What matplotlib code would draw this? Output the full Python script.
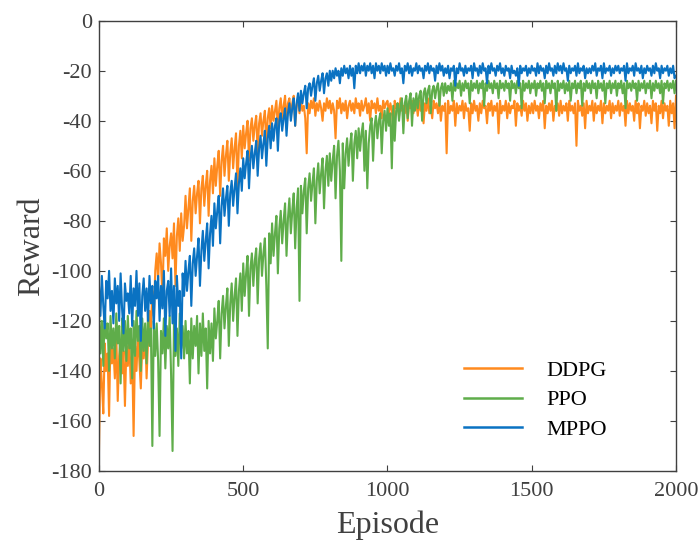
import numpy as np
import matplotlib
matplotlib.use("Agg")
import matplotlib.pyplot as plt

plt.rcParams['font.family'] = ['Liberation Serif', 'DejaVu Serif']
plt.rcParams['axes.unicode_minus'] = False

episodes = np.arange(0, 2001, 5)

ddpg = [
    -172, -135, -145, -157, -129, -140, -133, -158, -126, -137, -131, -143, -125, -152, -134, -128, -141, -132, -154, -130,
    -138, -127, -145, -133, -166, -130, -140, -125, -136, -147, -129, -135, -123, -143, -128, -116, -123, -108, -118, -100,
    -93, -104, -89, -97, -111, -87, -94, -83, -100, -90, -85, -95, -81, -106, -86, -79, -92, -77, -88, -82,
    -70, -83, -75, -67, -88, -72, -66, -77, -69, -64, -81, -67, -62, -74, -66, -60, -78, -64, -58, -69,
    -55, -66, -58, -52, -70, -56, -50, -62, -54, -48, -64, -53, -47, -59, -51, -45, -67, -50, -44, -55,
    -42, -51, -45, -40, -56, -43, -39, -48, -42, -38, -53, -41, -37, -46, -40, -36, -50, -39, -35, -43,
    -34, -40, -36, -32, -44, -35, -31, -39, -34, -30, -41, -33, -31, -38, -33, -30, -42, -34, -31, -37,
    -32, -36, -34, -39, -53, -33, -37, -32, -35, -31, -38, -33, -36, -32, -35, -40, -33, -36, -31, -35,
    -32, -37, -33, -36, -47, -32, -35, -31, -37, -33, -36, -32, -39, -34, -32, -36, -33, -37, -31, -35,
    -33, -38, -32, -36, -34, -31, -37, -33, -40, -32, -35, -33, -37, -31, -36, -34, -39, -32, -35, -33,
    -32, -37, -33, -36, -43, -32, -35, -33, -38, -31, -36, -34, -37, -32, -40, -33, -35, -32, -37, -34,
    -33, -38, -32, -36, -34, -41, -33, -36, -31, -37, -34, -39, -32, -35, -33, -37, -32, -40, -34, -36,
    -33, -53, -32, -37, -34, -36, -32, -42, -33, -37, -34, -36, -32, -39, -33, -36, -35, -44, -33, -37,
    -32, -36, -34, -40, -33, -37, -32, -35, -34, -41, -33, -36, -32, -38, -34, -36, -33, -45, -32, -37,
    -34, -36, -32, -39, -33, -37, -34, -35, -32, -42, -33, -36, -34, -38, -32, -36, -33, -40, -34, -37,
    -33, -37, -32, -36, -34, -39, -33, -36, -32, -43, -34, -37, -33, -36, -32, -40, -34, -36, -33, -38,
    -32, -37, -34, -36, -33, -40, -32, -36, -34, -37, -33, -50, -32, -36, -34, -38, -33, -43, -32, -37,
    -34, -36, -32, -40, -33, -37, -34, -36, -32, -41, -33, -37, -34, -36, -32, -39, -33, -37, -34, -36,
    -32, -38, -33, -36, -34, -42, -32, -37, -33, -36, -34, -40, -32, -37, -33, -43, -34, -36, -32, -38,
    -33, -37, -34, -41, -32, -36, -33, -44, -34, -37, -32, -39, -33, -36, -34, -42, -32, -37, -33, -43,
    -30,
]

ppo = [
    -116, -133, -120, -138, -115, -127, -121, -140, -118, -131, -123, -135, -117, -129, -122, -145, -119, -132, -120, -136,
    -118, -131, -123, -143, -120, -134, -116, -128, -122, -140, -119, -132, -121, -137, -117, -130, -123, -170, -120, -134,
    -121, -136, -166, -124, -133, -119, -139, -122, -131, -118, -142, -172, -120, -134, -123, -138, -117, -131, -122, -135,
    -120, -133, -124, -145, -119, -135, -122, -130, -118, -141, -121, -134, -117, -132, -123, -147, -120, -133, -121, -136,
    -115, -127, -120, -112, -135, -117, -110, -123, -114, -107, -130, -113, -105, -120, -110, -103, -126, -108, -101, -116,
    -97, -110, -101, -94, -118, -99, -93, -106, -96, -91, -113, -95, -89, -102, -93, -87, -106, -131, -85, -97,
    -81, -94, -85, -78, -101, -83, -76, -89, -80, -73, -94, -79, -71, -85, -76, -69, -91, -75, -67, -112,
    -66, -77, -68, -63, -85, -67, -61, -72, -65, -59, -81, -64, -57, -69, -61, -55, -75, -60, -54, -66,
    -53, -64, -56, -50, -71, -54, -48, -60, -96, -49, -67, -53, -47, -58, -50, -45, -64, -49, -44, -55,
    -43, -52, -45, -41, -60, -44, -67, -49, -42, -39, -56, -42, -38, -47, -40, -37, -53, -40, -36, -44,
    -35, -42, -37, -59, -34, -48, -36, -33, -40, -34, -31, -45, -33, -30, -39, -32, -29, -42, -31, -36,
    -29, -35, -30, -28, -40, -29, -27, -33, -28, -26, -37, -28, -26, -31, -27, -25, -34, -27, -25, -30,
    -25, -29, -26, -28, -25, -32, -24, -28, -25, -27, -24, -30, -25, -28, -24, -27, -25, -33, -24, -28,
    -25, -27, -24, -29, -25, -27, -24, -34, -25, -28, -24, -27, -25, -29, -24, -27, -25, -31, -24, -27,
    -25, -28, -24, -27, -25, -32, -24, -27, -25, -29, -24, -27, -25, -35, -24, -28, -25, -27, -24, -29,
    -25, -27, -24, -30, -25, -27, -24, -28, -25, -33, -24, -27, -25, -29, -24, -27, -25, -36, -24, -28,
    -25, -27, -24, -29, -25, -28, -24, -32, -25, -27, -24, -29, -25, -27, -24, -34, -25, -28, -24, -27,
    -25, -29, -24, -27, -25, -31, -24, -27, -25, -28, -24, -33, -25, -27, -24, -29, -25, -27, -24, -30,
    -25, -27, -24, -29, -25, -35, -24, -27, -25, -28, -24, -27, -25, -32, -24, -28, -25, -27, -24, -29,
    -25, -27, -24, -31, -25, -28, -24, -27, -25, -29, -24, -33, -25, -27, -24, -28, -25, -27, -24, -29,
    -24,
]

mppo = [
    -106, -118, -102, -114, -123, -104, -111, -100, -116, -108, -121, -103, -113, -106, -120, -101, -115, -125, -105, -112,
    -109, -117, -102, -122, -107, -114, -100, -118, -105, -128, -110, -103, -116, -107, -120, -102, -113, -106, -123, -104,
    -111, -102, -120, -106, -115, -100, -126, -108, -104, -118, -99, -121, -106, -132, -102, -114, -108, -135, -101, -110,
    -96, -108, -100, -94, -114, -97, -91, -102, -94, -87, -106, -92, -84, -96, -88, -81, -99, -85, -78, -90,
    -73, -83, -76, -70, -89, -74, -67, -78, -71, -66, -82, -69, -64, -74, -67, -61, -77, -65, -59, -68,
    -55, -63, -57, -52, -67, -55, -50, -59, -53, -48, -62, -51, -46, -55, -49, -44, -58, -47, -42, -51,
    -41, -48, -42, -39, -52, -40, -37, -44, -39, -35, -46, -37, -33, -40, -35, -31, -42, -33, -29, -36,
    -28, -33, -29, -26, -35, -27, -25, -30, -26, -23, -32, -25, -22, -28, -24, -21, -29, -23, -21, -26,
    -20, -24, -20, -23, -19, -22, -20, -25, -19, -22, -18, -21, -19, -23, -18, -22, -19, -27, -18, -21,
    -17, -21, -18, -20, -17, -22, -18, -20, -17, -21, -18, -23, -17, -20, -18, -21, -17, -20, -18, -22,
    -18, -21, -17, -20, -19, -22, -18, -20, -17, -21, -19, -25, -18, -20, -17, -21, -18, -22, -19, -20,
    -17, -21, -18, -20, -19, -23, -18, -20, -17, -21, -18, -20, -19, -24, -18, -21, -17, -20, -18, -22,
    -19, -21, -18, -23, -19, -20, -18, -26, -19, -21, -17, -20, -19, -22, -18, -21, -19, -20, -18, -23,
    -17, -20, -19, -22, -18, -21, -17, -20, -19, -25, -18, -21, -17, -20, -19, -22, -18, -20, -17, -21,
    -19, -22, -18, -20, -19, -23, -18, -21, -20, -22, -19, -26, -18, -21, -19, -20, -18, -22, -19, -21,
    -18, -20, -19, -22, -17, -21, -18, -20, -19, -23, -18, -21, -17, -20, -19, -22, -18, -21, -17, -20,
    -18, -21, -17, -20, -19, -24, -18, -21, -19, -20, -18, -22, -17, -21, -19, -20, -18, -23, -19, -21,
    -19, -21, -18, -20, -17, -22, -19, -20, -18, -23, -17, -21, -19, -20, -18, -22, -19, -21, -18, -20,
    -18, -21, -19, -20, -18, -24, -17, -21, -19, -20, -18, -22, -17, -20, -19, -21, -18, -23, -19, -21,
    -18, -20, -19, -22, -18, -21, -17, -20, -19, -23, -18, -21, -19, -20, -18, -22, -19, -21, -18, -23,
    -22,
]

labels = ["DDPG", "PPO", "MPPO"]
colors = ["#FF8A1E", "#5FAD4A", "#0A72C2"]

fig = plt.figure(figsize=(6.99, 5.41), dpi=100)
ax = fig.add_axes([0.1416, 0.1294, 0.8255, 0.8323])

for series, lab, col in zip([ddpg, ppo, mppo], labels, colors):
    ax.plot(episodes, series, color=col, lw=1.5, label=lab)

ax.set_xlim(0, 2000)
ax.set_ylim(-180, 0)
ax.set_xticks([0, 500, 1000, 1500, 2000])
ax.set_yticks(np.arange(-180, 1, 20))

gray = "#404040"
ax.tick_params(direction="in", length=4, width=0.8, colors=gray,
               labelsize=16, top=True, right=True, labelcolor=gray)
ax.tick_params(axis="x", pad=8)
ax.tick_params(axis="y", pad=5)
for sp in ax.spines.values():
    sp.set_color(gray)
    sp.set_linewidth(1.0)

ax.set_xlabel("Episode", fontsize=23, color=gray, labelpad=7)
ax.set_ylabel("Reward", fontsize=23, color=gray, labelpad=4)

leg = ax.legend(loc="lower right", bbox_to_anchor=(0.915, 0.025), frameon=False,
                fontsize=16, handlelength=2.6, handletextpad=1.1,
                labelspacing=0.4)
for line in leg.get_lines():
    line.set_linewidth(1.8)

fig.savefig("out.png", dpi=100)
